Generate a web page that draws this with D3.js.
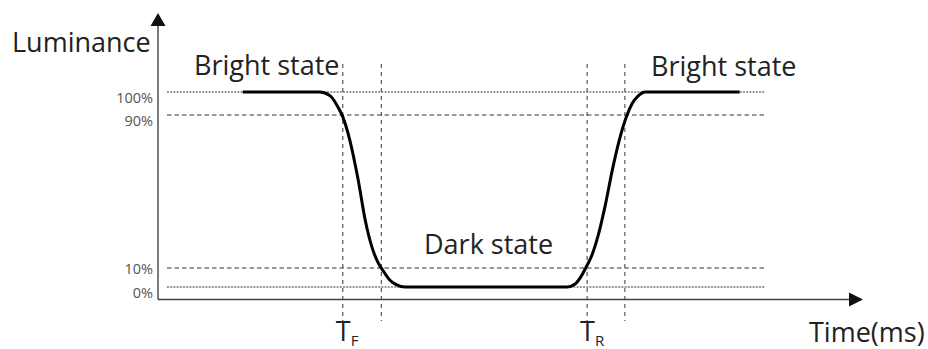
<!DOCTYPE html>
<html>
<head>
<meta charset="utf-8">
<script src="https://cdn.jsdelivr.net/npm/d3@7"></script>
<style>
  html, body { margin: 0; padding: 0; background: #fff; }
  svg { display: block; }
  text { font-family: "Open Sans", "Noto Sans", sans-serif; }
</style>
</head>
<body>
<svg id="chart" width="928" height="349"></svg>
<script>
// Luminance reference levels (%) and their labels
const levelValues = [100, 90, 10, 0];
const levelLabels = ["100%", "90%", "10%", "0%"];

// Optical response curve: time (ms, arbitrary units) vs luminance (%)
const timeMs = [12.1, 23.1, 24.6, 25.7, 26.4, 27.4, 28.6, 29.6, 30.6, 31.4, 32.1, 33.1, 34.1, 35.3,
                58.4, 59.6, 60.4, 61.1, 62.0, 62.9, 63.9, 64.9, 65.9, 66.9, 67.7, 68.6, 69.6, 83.1];
const luminance = [100, 100, 98.3, 93.5, 89.0, 76.9, 56.0, 35.1, 20.5, 13.1, 8.9, 3.7, 1.1, 0,
                   0, 1.6, 5.3, 10.0, 16.8, 27.3, 42.9, 61.2, 76.9, 89.0, 94.8, 98.3, 100, 100];

// Times where the curve crosses the 90% / 10% levels
const markerTimes = [26.4, 31.9, 61.3, 66.7];
// Response-time labels: fall time and rise time
const responseMain = ["T", "T"];
const responseSub = ["F", "R"];
const responseAt = [26.4, 61.3];

// State annotations and axis titles
const stateLabels = ["Bright state", "Dark state", "Bright state"];
const axisTitles = ["Luminance", "Time(ms)"];

const svg = d3.select("#chart");

const x = d3.scaleLinear().domain([0, 100]).range([158, 858]);
// piecewise scale so each reference level sits on its own line
const y = d3.scaleLinear().domain([0, 10, 90, 100]).range([287, 268, 115, 92]);

const axisY = 299.5, axisX = 158;
const ink = "#222";

// Horizontal reference levels
svg.append("g").selectAll("line")
  .data(levelValues)
  .join("line")
  .attr("x1", 167).attr("x2", 765)
  .attr("y1", d => y(d)).attr("y2", d => y(d))
  .attr("stroke", "#333")
  .attr("stroke-width", 1)
  .attr("stroke-dasharray", d => (d === 0 || d === 100) ? "2,1.2" : "4.5,3");

// Vertical markers for the response times
svg.append("g").selectAll("line")
  .data(markerTimes)
  .join("line")
  .attr("x1", d => x(d)).attr("x2", d => x(d))
  .attr("y1", 64).attr("y2", 321)
  .attr("stroke", "#333")
  .attr("stroke-width", 1)
  .attr("stroke-dasharray", "4,4");

// Level labels on the luminance axis (10% sits tight against its line to clear 0%)
const yAxis = d3.axisLeft(y)
  .tickValues(levelValues)
  .tickFormat((d, i) => levelLabels[i])
  .tickSize(0)
  .tickPadding(5);
const gy = svg.append("g").attr("transform", `translate(${axisX},0)`).call(yAxis);
gy.select(".domain").remove();
gy.selectAll("text")
  .attr("dy", "0.32em")
  .attr("transform", d => `translate(0,${d === 10 ? 1 : 6})`)
  .attr("font-family", "'Open Sans', sans-serif")
  .attr("font-size", 14.5)
  .attr("fill", "#555");

// Axes with arrowheads
svg.append("line")
  .attr("x1", axisX).attr("x2", axisX)
  .attr("y1", axisY).attr("y2", 24)
  .attr("stroke", "#444").attr("stroke-width", 1.4);
svg.append("path")
  .attr("d", `M${axisX},13 L${axisX - 7.5},26 L${axisX + 7.5},26 Z`)
  .attr("fill", "#111");

svg.append("line")
  .attr("x1", axisX).attr("x2", 850)
  .attr("y1", axisY).attr("y2", axisY)
  .attr("stroke", "#444").attr("stroke-width", 1.4);
svg.append("path")
  .attr("d", `M863,${axisY} L849,${axisY - 7} L849,${axisY + 7} Z`)
  .attr("fill", "#111");

// Response curve
const pts = timeMs.map((t, i) => [t, luminance[i]]);
svg.append("path")
  .datum(pts)
  .attr("fill", "none")
  .attr("stroke", "#000")
  .attr("stroke-width", 3)
  .attr("stroke-linejoin", "round")
  .attr("d", d3.line().x(d => x(d[0])).y(d => y(d[1])).curve(d3.curveMonotoneX));

// Titles and annotations
const big = 27;
svg.append("text").attr("x", 12).attr("y", 52).attr("font-size", big).attr("fill", ink)
  .text(axisTitles[0]);
svg.append("text").attr("x", 809).attr("y", 342).attr("font-size", big).attr("fill", ink)
  .text(axisTitles[1]);

svg.append("text").attr("x", 194).attr("y", 75).attr("font-size", big).attr("fill", ink)
  .text(stateLabels[0]);
svg.append("text").attr("x", 424).attr("y", 254).attr("font-size", big).attr("fill", ink)
  .text(stateLabels[1]);
svg.append("text").attr("x", 651).attr("y", 76).attr("font-size", big).attr("fill", ink)
  .text(stateLabels[2]);

// T_F and T_R labels under their markers
responseAt.forEach((t, i) => {
  const lbl = svg.append("text")
    .attr("x", x(t) - 7).attr("y", 341)
    .attr("font-size", 27).attr("fill", ink);
  lbl.append("tspan").text(responseMain[i]);
  lbl.append("tspan").attr("dy", 5).attr("font-size", 15).text(responseSub[i]);
});
</script>
</body>
</html>
